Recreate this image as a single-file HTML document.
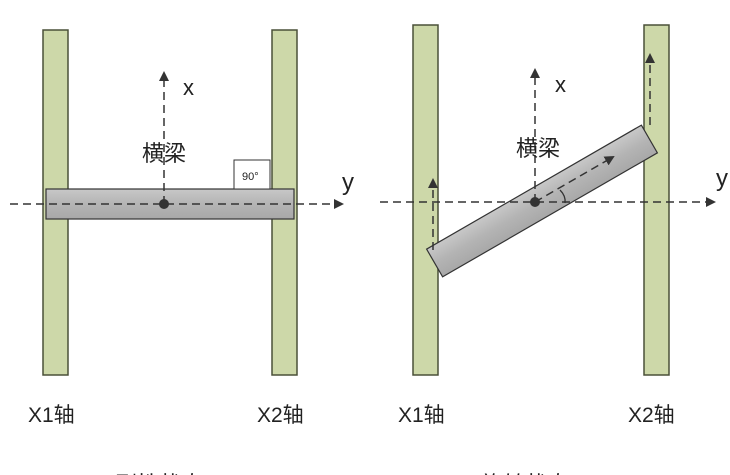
<!DOCTYPE html>
<html><head><meta charset="utf-8"><style>
html,body{margin:0;padding:0;background:#fff;width:730px;height:475px;overflow:hidden}
text{font-family:"Liberation Sans","Noto Sans CJK SC",sans-serif;fill:#222}
</style></head><body>
<svg width="730" height="475" viewBox="0 0 730 475" xmlns="http://www.w3.org/2000/svg">
<defs>
<linearGradient id="g" x1="0" y1="0" x2="0" y2="1"><stop offset="0" stop-color="#c8c8c8"/><stop offset="0.5" stop-color="#b4b4b4"/><stop offset="1" stop-color="#a8a8a8"/></linearGradient>
<marker id="a" markerWidth="10" markerHeight="10" refX="8" refY="5" orient="auto" markerUnits="userSpaceOnUse"><path d="M0,0 L10,5 L0,10 z" fill="#333"/></marker>
</defs>
<g fill="#cdd8a9" stroke="#4a5038" stroke-width="1.5">
<rect x="43" y="30" width="25" height="345"/>
<rect x="272" y="30" width="25" height="345"/>
<rect x="413" y="25" width="25" height="350"/>
<rect x="644" y="25" width="25" height="350"/>
</g>
<rect x="46" y="189" width="248" height="30" fill="url(#g)" stroke="#333" stroke-width="1.2"/>
<rect x="234" y="160" width="36" height="29" fill="#fff" stroke="#333" stroke-width="1"/>
<text x="242" y="180" font-size="11">90°</text>
<g stroke="#333" stroke-width="1.5" stroke-dasharray="8,5" fill="none">
<line x1="10" y1="204" x2="342" y2="204" marker-end="url(#a)"/>
<line x1="164" y1="204" x2="164" y2="73" marker-end="url(#a)"/>
</g>
<circle cx="164" cy="204" r="5" fill="#333"/>
<text x="183" y="95" font-size="22">x</text>
<text x="342" y="190" font-size="24">y</text>
<text x="142" y="161" font-size="22">横梁</text>
<g transform="translate(542,201) rotate(-30)">
<rect x="-124" y="-16" width="248" height="32" fill="url(#g)" stroke="#333" stroke-width="1.2"/>
</g>
<g stroke="#333" stroke-width="1.5" stroke-dasharray="8,5" fill="none">
<line x1="380" y1="202" x2="714" y2="202" marker-end="url(#a)"/>
<line x1="535" y1="202" x2="535" y2="70" marker-end="url(#a)"/>
<line x1="433" y1="250" x2="433" y2="180" marker-end="url(#a)"/>
<line x1="650" y1="125" x2="650" y2="55" marker-end="url(#a)"/>
<line x1="535" y1="202" x2="613" y2="157" marker-end="url(#a)"/>
</g>
<path d="M560,190 Q566,196 565,203" stroke="#333" stroke-width="1.3" fill="none"/>
<circle cx="535" cy="202" r="5" fill="#333"/>
<text x="555" y="92" font-size="22">x</text>
<text x="716" y="186" font-size="24">y</text>
<text x="516" y="156" font-size="22">横梁</text>
<text x="28" y="422" font-size="21">X1轴</text>
<text x="257" y="422" font-size="21">X2轴</text>
<text x="398" y="422" font-size="21">X1轴</text>
<text x="628" y="422" font-size="21">X2轴</text>
<text x="82" y="492" font-size="22" fill="#888">(a) 刚性状态</text>
<text x="448" y="492" font-size="22" fill="#888">(b) 旋转状态</text>
</svg>
</body></html>
